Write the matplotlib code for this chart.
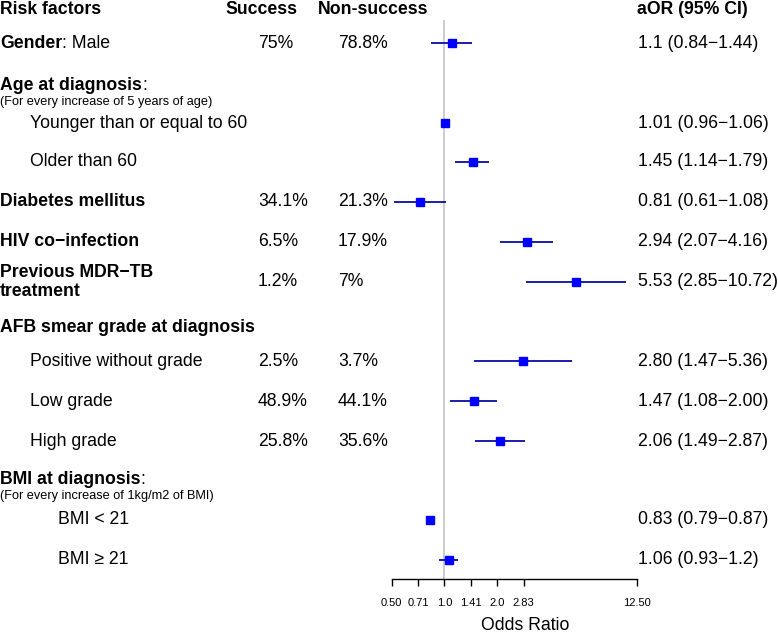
import matplotlib.pyplot as plt

plt.rcParams['font.family'] = ['Liberation Sans', 'DejaVu Sans']

# ---------------------------------------------------------------------------
# Datos del forest plot (una entrada por fila con estimacion)
# ---------------------------------------------------------------------------
labels = ['Male', 'Younger than or equal to 60', 'Older than 60', 'Diabetes mellitus',
          'HIV co\u2212infection', 'Previous MDR\u2212TB\ntreatment', 'Positive without grade',
          'Low grade', 'High grade', 'BMI < 21', 'BMI \u2265 21']
success = ['75%', '', '', '34.1%', '6.5%', '1.2%', '2.5%', '48.9%', '25.8%', '', '']
non_success = ['78.8%', '', '', '21.3%', '17.9%', '7%', '3.7%', '44.1%', '35.6%', '', '']
# valores dibujados (diabetes esta dibujada algo a la izquierda de su texto)
aor = [1.1, 1.01, 1.46, 0.725, 2.94, 5.6, 2.80, 1.47, 2.06, 0.83, 1.06]
ci_low = [0.84, 0.96, 1.15, 0.515, 2.07, 2.9, 1.47, 1.08, 1.49, 0.79, 0.93]
ci_high = [1.44, 1.06, 1.80, 1.02, 4.16, 10.9, 5.36, 2.00, 2.87, 0.87, 1.2]
aor_text = ['1.1 (0.84\u22121.44)', '1.01 (0.96\u22121.06)', '1.45 (1.14\u22121.79)',
            '0.81 (0.61\u22121.08)', '2.94 (2.07\u22124.16)', '5.53 (2.85\u221210.72)',
            '2.80 (1.47\u22125.36)', '1.47 (1.08\u22122.00)', '2.06 (1.49\u22122.87)',
            '0.83 (0.79\u22120.87)', '1.06 (0.93\u22121.2)']
tick_vals = [0.50, 0.71, 1.0, 1.41, 2.0, 2.83, 12.50]
tick_labels = ['0.50', '0.71', '1.0', '1.41', '2.0', '2.83', '12.50']

# ---------------------------------------------------------------------------
# Disposicion (pixeles de la figura)
# ---------------------------------------------------------------------------
W, H = 778, 636
row_y = [43, 123, 162, 202, 242, 282, 361, 401, 441, 520, 560]
indent = [0, 30, 30, 0, 0, 0, 30, 30, 30, 58, 58]
bold = [False, False, False, True, True, True, False, False, False, False, False]
sections = [('Age at diagnosis', ':', 86, '(For every increase of 5 years of age)', 102),
            ('AFB smear grade at diagnosis', '', 328, None, None),
            ('BMI at diagnosis', ':', 479, '(For every increase of 1kg/m2 of BMI)', 496)]
x_one = 444.5      # pixel del OR = 1
px_double = 52.8   # pixeles por duplicacion
axis_y = 579
fs = 12.7

fig = plt.figure(figsize=(W / 100, H / 100), dpi=100)

# Eje de texto en pixeles
tax = fig.add_axes([0, 0, 1, 1])
tax.set_xlim(0, W)
tax.set_ylim(H, 0)
tax.axis('off')

# Eje del forest plot en escala logaritmica
fax = fig.add_axes([0, 0, 1, 1], facecolor='none')
fax.set_xscale('log')
fax.set_xlim(2 ** (-x_one / px_double), 2 ** ((W - x_one) / px_double))
fax.set_ylim(H, 0)

# Cabecera
tax.text(0, 10, 'Risk factors', weight='bold', fontsize=fs, va='center')
tax.text(225, 10, 'Success', weight='bold', fontsize=fs, va='center')
tax.text(318, 10, 'Non-success', weight='bold', fontsize=fs, va='center')
tax.text(637, 10, 'aOR (95% CI)', weight='bold', fontsize=fs, va='center')

# Filas
for i in range(len(labels)):
    y = row_y[i]
    if i == 0:
        t = tax.text(0, y, 'Gender', weight='bold', fontsize=fs, va='center')
        tax.annotate(': ' + labels[i], xy=(1, 0), xycoords=t, va='bottom', fontsize=fs)
    else:
        tax.text(indent[i], y, labels[i], weight='bold' if bold[i] else 'normal',
                 fontsize=fs, va='center', linespacing=1.08)
    tax.text(258, y, success[i], fontsize=fs, va='center')
    tax.text(338, y, non_success[i], fontsize=fs, va='center')
    tax.text(638, y, aor_text[i], fontsize=fs, va='center')

for title, colon, y, sub, ys in sections:
    t = tax.text(0, y, title, weight='bold', fontsize=fs, va='center')
    if colon:
        tax.annotate(colon, xy=(1, 0), xycoords=t, va='bottom', fontsize=fs)
    if sub:
        tax.text(0, ys, sub, fontsize=9.2, va='center')

# Linea de referencia OR = 1
fax.vlines(1, 20, axis_y, color='#c8c8c8', lw=1.3, zorder=1)

# Intervalos y estimaciones
fax.hlines(row_y, ci_low, ci_high, color='#1c1caa', lw=1.4, zorder=2)
fax.plot(aor, row_y, 's', color='#0000ff', markersize=6.2, zorder=3, ls='none')

# Eje X
for s in ['top', 'left', 'right']:
    fax.spines[s].set_visible(False)
fax.spines['bottom'].set_position(('data', axis_y))
fax.spines['bottom'].set_bounds(tick_vals[0], tick_vals[-1])
fax.spines['bottom'].set_linewidth(1.0)
fax.set_yticks([])
fax.set_xticks(tick_vals)
fax.set_xticklabels(tick_labels, fontsize=8)
fax.minorticks_off()
fax.tick_params(axis='x', direction='out', length=5, width=1.0, pad=9)
tax.text(525, 626, 'Odds Ratio', fontsize=fs, ha='center', va='center')

fig.savefig('out.png', dpi=100)
